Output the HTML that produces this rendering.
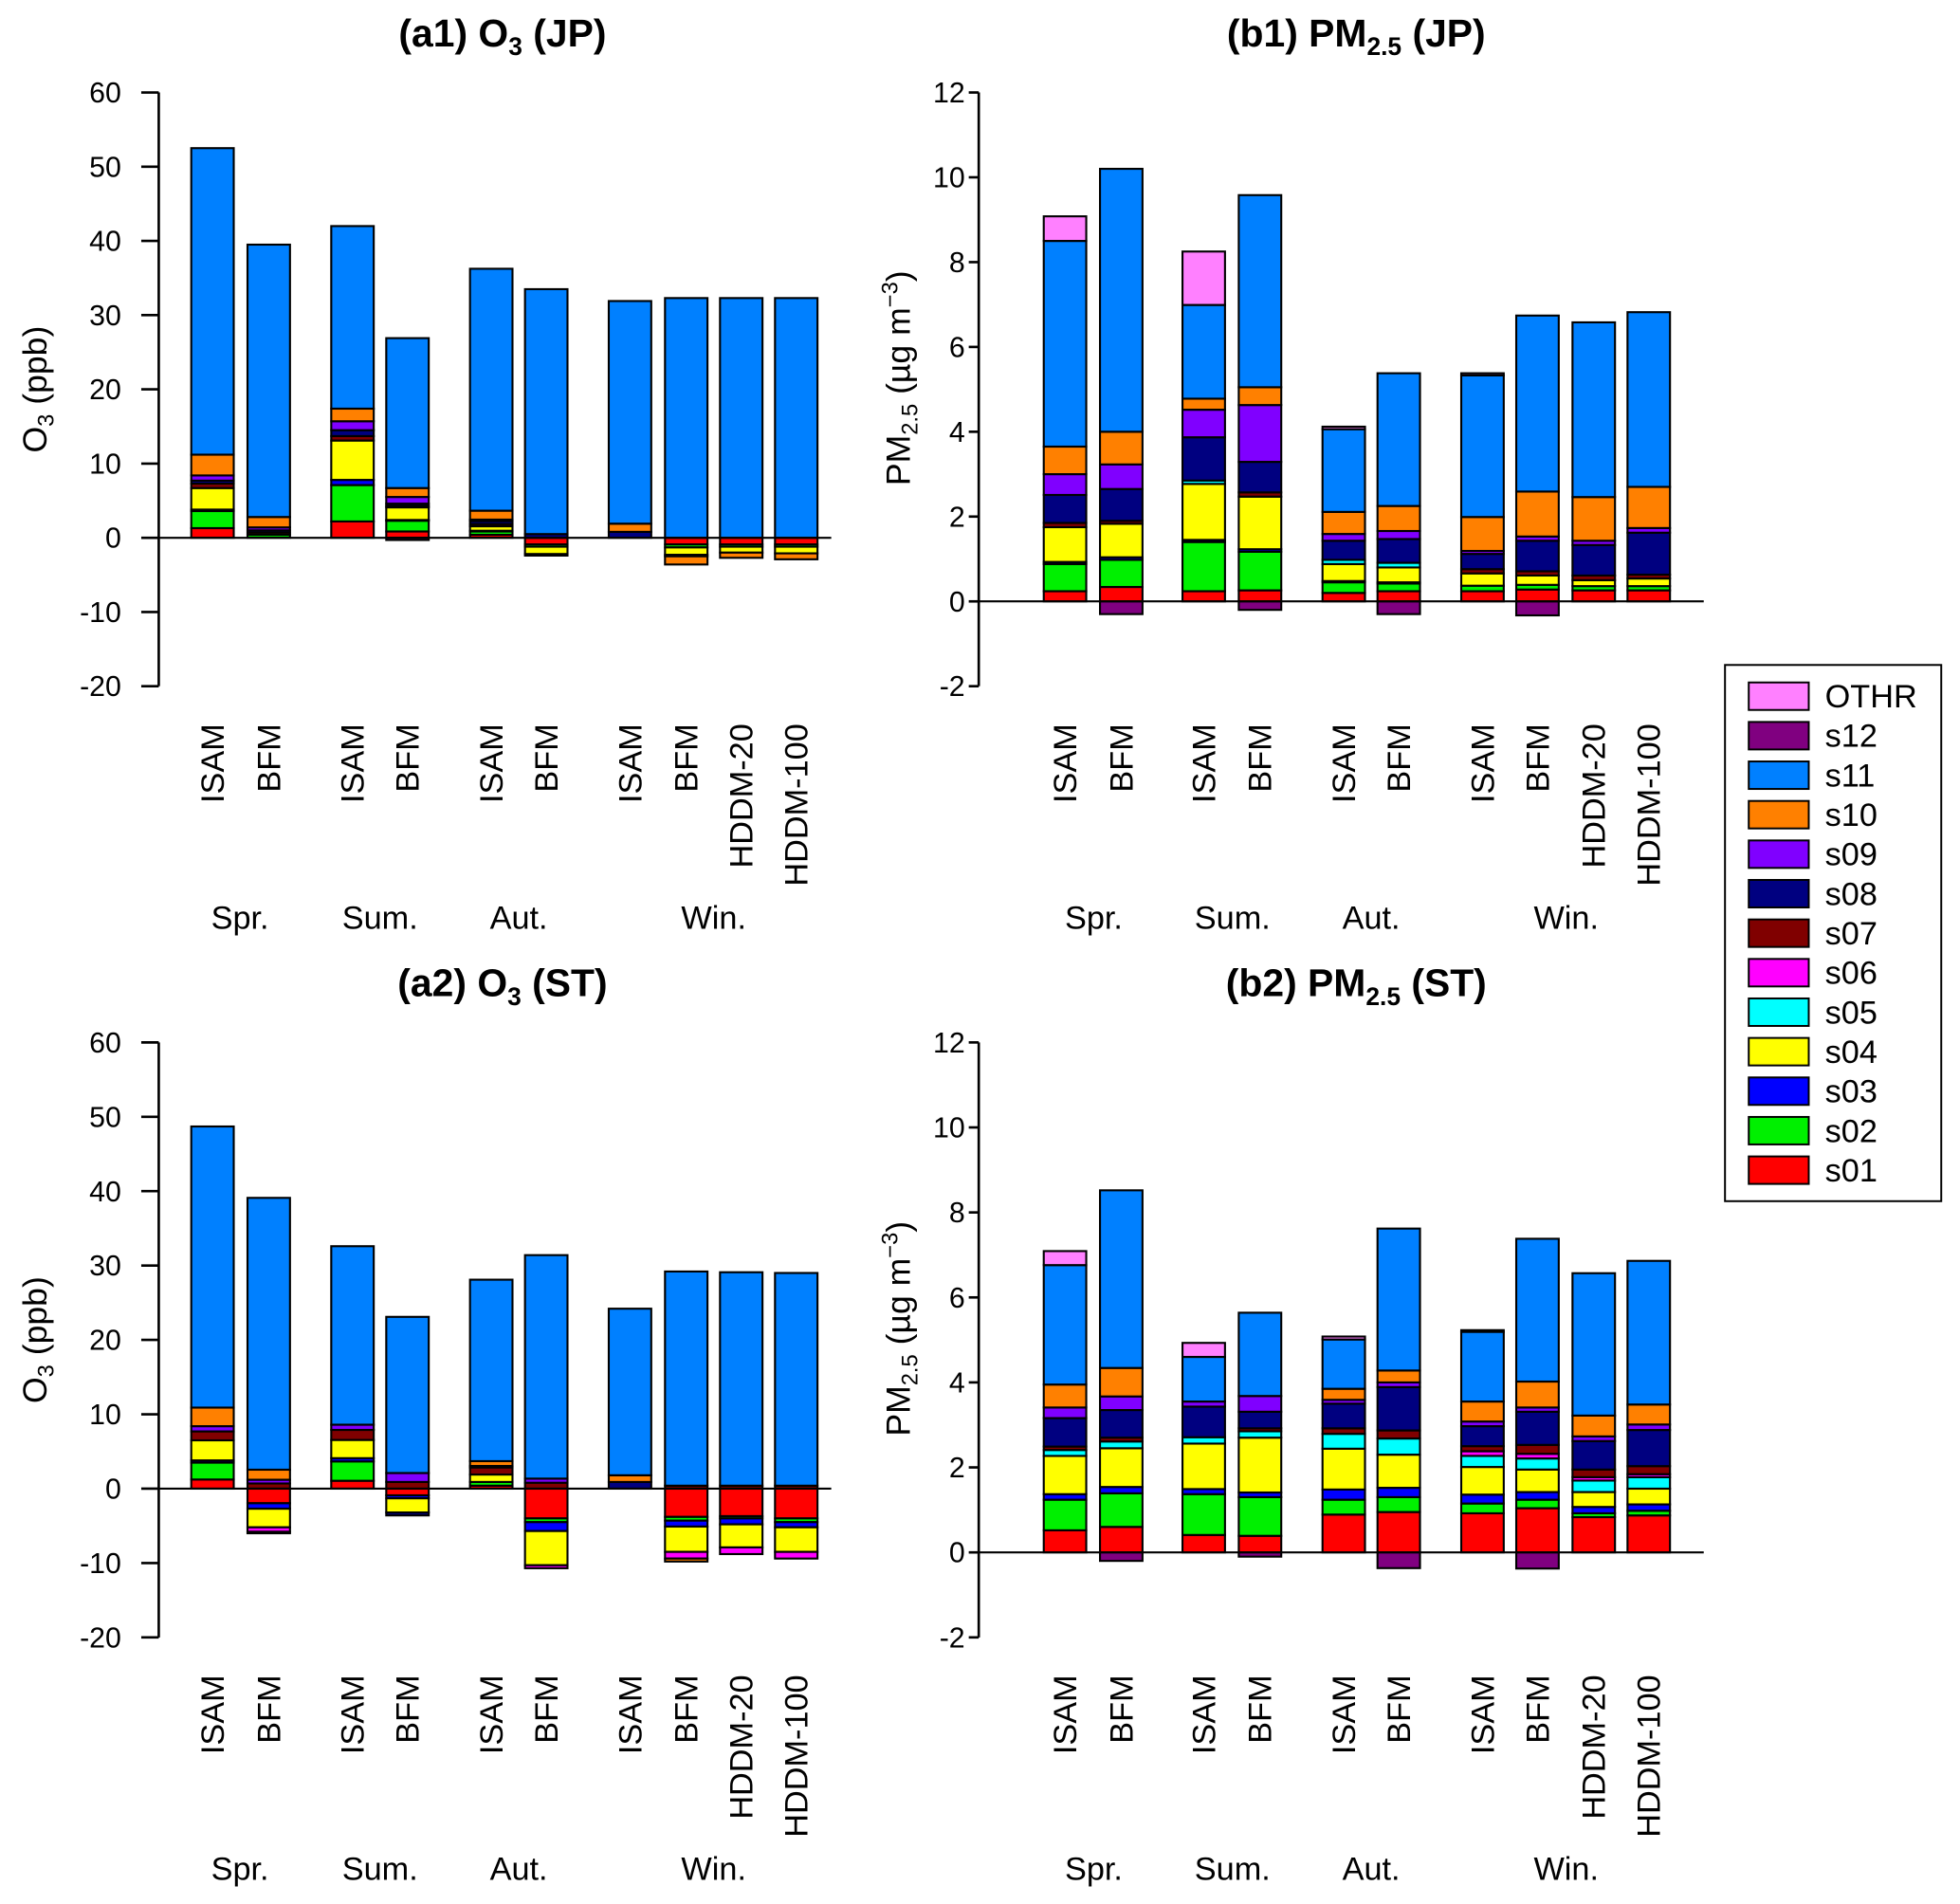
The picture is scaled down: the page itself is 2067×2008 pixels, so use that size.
<!DOCTYPE html>
<html><head><meta charset="utf-8">
<style>
html,body{margin:0;padding:0;background:#fff;}
svg{display:block;font-family:"Liberation Sans",Arial,sans-serif;}
</style></head>
<body>
<svg id="chart" width="2067" height="2008" viewBox="0 0 1568 1523.3" preserveAspectRatio="none" xmlns="http://www.w3.org/2000/svg"></svg>
<script>
const categories = ["ISAM","BFM","ISAM","BFM","ISAM","BFM","ISAM","BFM","HDDM-20","HDDM-100"];
const seasons = ["Spr.","Sum.","Aut.","Win."];
const seriesNames = ["s01","s02","s03","s04","s05","s06","s07","s08","s09","s10","s11","s12","OTHR"];
const seriesColors = ["#ff0000","#00f000","#0000ff","#ffff00","#00ffff","#ff00ff","#800000","#000080","#8000ff","#ff8000","#0080ff","#800080","#ff80ff"];
const oTicks = [60,50,40,30,20,10,0,-10,-20];
const pTicks = [12,10,8,6,4,2,0,-2];

// (a1) O3 JP
const a1_s01 = [1.3,0,2.2,0.85,0.4,-0.9,0,-0.9,-0.9,-0.9];
const a1_s02 = [2.3,0.4,4.9,1.45,0.45,-0.3,0,-0.4,-0.3,-0.3];
const a1_s03 = [0.2,0,0.7,0.1,0.1,0,0,0,0,0];
const a1_s04 = [2.9,0,5.3,1.7,0.6,-1.0,0,-1.0,-0.8,-0.9];
const a1_s05 = [0,0,0,0,0,0,0,0,0,0];
const a1_s06 = [0,0,0,0,0,0,0,0,0,0];
const a1_s07 = [0.6,0.3,0.6,0.2,0.3,0,0,0,0,0];
const a1_s08 = [0.4,0.3,0.8,0.3,0.4,0.5,0.8,-0.2,0,0];
const a1_s09 = [0.7,0.4,1.2,0.9,0.2,0,0,0,0,0];
const a1_s10 = [2.8,1.4,1.7,1.2,1.2,-0.2,1.1,-1.1,-0.7,-0.8];
const a1_s11 = [41.3,36.7,24.6,20.2,32.6,33.0,30.0,32.3,32.3,32.3];
const a1_s12 = [0,0,0,-0.3,0,0,0,0,0,0];
const a1_othr = [0,0,0,0,0,0,0,0,0,0];

// (b1) PM2.5 JP
const b1_s01 = [.24,.34,.24,.26,.2,.24,.24,.28,.26,.26];
const b1_s02 = [.64,.64,1.16,.91,.25,.18,.13,.11,.10,.10];
const b1_s03 = [.05,.06,.05,.06,.03,.03,0,0,0,0];
const b1_s04 = [.82,.79,1.32,1.24,.40,.35,.29,.22,.14,.18];
const b1_s05 = [0,0,.08,0,.10,.11,0,0,0,0];
const b1_s06 = [0,0,0,0,0,0,0,0,0,0];
const b1_s07 = [.10,.07,0,.10,0,0,.10,.10,.11,.09];
const b1_s08 = [.66,.75,1.02,.72,.45,.56,.36,.72,.72,.99];
const b1_s09 = [.49,.58,.65,1.34,.16,.19,.07,.10,.10,.11];
const b1_s10 = [.65,.77,.26,.42,.52,.59,.80,1.06,1.03,.97];
const b1_s11 = [4.85,6.2,2.21,4.53,1.95,3.13,3.34,4.15,4.12,4.12];
const b1_s12 = [0,-.3,0,-.2,0,-.3,0,-.33,0,0];
const b1_othr = [.58,0,1.26,0,.06,0,.05,0,0,0];

// (a2) O3 ST
const a2_s01 = [1.23,-1.96,1.06,-.9,.4,-4.0,0,-3.8,-3.7,-4.0];
const a2_s02 = [2.27,0,2.6,0,.5,-.5,0,-.5,-.3,-.5];
const a2_s03 = [.3,-.74,.44,-.4,0,-1.2,0,-.8,-.8,-.7];
const a2_s04 = [2.7,-2.5,2.45,-1.9,1.0,-4.6,0,-3.4,-3.1,-3.3];
const a2_s05 = [0,0,0,0,0,0,0,0,0,0];
const a2_s06 = [0,-.6,0,0,0,-.4,0,-.9,-.9,-.9];
const a2_s07 = [1.2,.7,1.35,.9,.95,.8,0,.4,.4,.4];
const a2_s08 = [0,-.2,0,-.4,0,0,.9,0,0,0];
const a2_s09 = [.7,.5,.7,1.2,.2,.55,0,0,0,0];
const a2_s10 = [2.5,1.35,0,0,.65,0,.9,-.4,0,0];
const a2_s11 = [37.8,36.55,24.0,21.0,24.4,30.05,22.4,28.8,28.7,28.6];
const a2_s12 = [0,0,0,0,0,0,0,0,0,0];
const a2_othr = [0,0,0,0,0,0,0,0,0,0];

// (b2) PM2.5 ST
const b2_s01 = [.52,.6,.41,.39,.89,.95,.92,1.04,.83,.87];
const b2_s02 = [.72,.79,.96,.91,.35,.35,.23,.2,.09,.11];
const b2_s03 = [.13,.15,.12,.11,.24,.22,.21,.18,.15,.15];
const b2_s04 = [.9,.91,1.07,1.29,.96,.78,.65,.53,.35,.37];
const b2_s05 = [.14,.16,.15,.15,.35,.38,.26,.26,.27,.27];
const b2_s06 = [0,0,0,0,0,0,.11,.11,.08,.07];
const b2_s07 = [.08,.09,0,.07,.13,.19,.12,.21,.18,.19];
const b2_s08 = [.67,.65,.72,.39,.58,1.02,.47,.78,.67,.85];
const b2_s09 = [.25,.32,.12,.37,.09,.11,.11,.1,.11,.13];
const b2_s10 = [.54,.67,0,0,.26,.28,.47,.61,.49,.47];
const b2_s11 = [2.81,4.18,1.05,1.96,1.16,3.34,1.64,3.36,3.35,3.38];
const b2_s12 = [0,-.2,0,-.1,0,-.37,0,-.38,0,0];
const b2_othr = [.33,0,.33,0,.07,0,.04,0,0,0];

const NS = "http://www.w3.org/2000/svg";
const svg = document.getElementById('chart');
function mk(tag, attrs, parent){
  const e = document.createElementNS(NS, tag);
  for (const k in attrs) e.setAttribute(k, attrs[k]);
  (parent||svg).appendChild(e);
  return e;
}

const panels = [
  {id:"a1", title:"(a1) O", sub:"3", tail:" (JP)", kind:"o3", x0:127, x1:665, yTop:74, yBot:549, vMax:60, vMin:-20, ticks:oTicks, centers:[170,215,282,326,393,437,504,549,593,637], seasonX:[192,304,415,571], titleX:402, tickLen:14, labGap:30,
    series:[a1_s01,a1_s02,a1_s03,a1_s04,a1_s05,a1_s06,a1_s07,a1_s08,a1_s09,a1_s10,a1_s11,a1_s12,a1_othr]},
  {id:"b1", title:"(b1) PM", sub:"2.5", tail:" (JP)", kind:"pm", x0:783, x1:1363, yTop:74, yBot:549, vMax:12, vMin:-2, ticks:pTicks, centers:[852,897,963,1008,1075,1119,1186,1230,1275,1319], seasonX:[875,986,1097,1253], titleX:1085, tickLen:8, labGap:11,
    series:[b1_s01,b1_s02,b1_s03,b1_s04,b1_s05,b1_s06,b1_s07,b1_s08,b1_s09,b1_s10,b1_s11,b1_s12,b1_othr]},
  {id:"a2", title:"(a2) O", sub:"3", tail:" (ST)", kind:"o3", x0:127, x1:665, yTop:834, yBot:1310, vMax:60, vMin:-20, ticks:oTicks, centers:[170,215,282,326,393,437,504,549,593,637], seasonX:[192,304,415,571], titleX:402, tickLen:14, labGap:30,
    series:[a2_s01,a2_s02,a2_s03,a2_s04,a2_s05,a2_s06,a2_s07,a2_s08,a2_s09,a2_s10,a2_s11,a2_s12,a2_othr]},
  {id:"b2", title:"(b2) PM", sub:"2.5", tail:" (ST)", kind:"pm", x0:783, x1:1363, yTop:834, yBot:1310, vMax:12, vMin:-2, ticks:pTicks, centers:[852,897,963,1008,1075,1119,1186,1230,1275,1319], seasonX:[875,986,1097,1253], titleX:1085, tickLen:8, labGap:11,
    series:[b2_s01,b2_s02,b2_s03,b2_s04,b2_s05,b2_s06,b2_s07,b2_s08,b2_s09,b2_s10,b2_s11,b2_s12,b2_othr]}
];

const BW = 34;
panels.forEach(p => {
  const g = mk('g', {});
  
  
  const yScale = v => p.yTop + (p.vMax - v) / (p.vMax - p.vMin) * (p.yBot - p.yTop);
  const y0 = yScale(0);

  // title
  const t = mk('text', {x:p.titleX, y:p.yTop - 37, 'text-anchor':'middle', 'font-size':31, 'font-weight':'bold'}, g);
  
  
  t.appendChild(document.createTextNode(p.title));
  const ts = mk('tspan', {'font-size':20, dy:7}, t); ts.textContent = p.sub;
  const tt = mk('tspan', {dy:-7}, t); tt.textContent = p.tail;

  // bars
  p.centers.forEach((cx, i) => {
    let pos = 0, neg = 0;
    p.series.forEach((arr, s) => {
      const v = arr[i];
      if (!v) return;
      let a, b;
      if (v > 0) { a = pos; b = pos + v; pos = b; } else { a = neg; b = neg + v; neg = b; }
      const ya = yScale(a), yb = yScale(b);
      const r = mk('rect', {x:cx - BW/2, y:Math.min(ya,yb), width:BW, height:Math.abs(ya-yb), fill:seriesColors[s], stroke:'#000', 'stroke-width':1.6}, g);
      
      
    });
  });

  // axes
  const ax = mk('line', {x1:p.x0, y1:p.yTop, x2:p.x0, y2:p.yBot, stroke:'#000', 'stroke-width':2}, g);
  
  
  const zl = mk('line', {x1:p.x0, y1:y0, x2:p.x1, y2:y0, stroke:'#000', 'stroke-width':1.6}, g);
  
  
  p.ticks.forEach(v => {
    const y = yScale(v);
    mk('line', {x1:p.x0 - p.tickLen, y1:y, x2:p.x0, y2:y, stroke:'#000', 'stroke-width':2}, g);
    const tl = mk('text', {x:p.x0 - p.labGap, y:y + 8, 'text-anchor':'end', 'font-size':23}, g);
    
    
    tl.textContent = v;
  });

  // y title
  const yc = (p.yTop + p.yBot) / 2;
  const ytx = p.kind === 'o3' ? 37 : 728;
  const ycc = p.kind === 'o3' ? yc : yc - 9;
  const yt = mk('text', {transform:'translate(' + ytx + ',' + ycc + ') rotate(-90)', 'text-anchor':'middle', 'font-size':27}, g);
  
  
  if (p.kind === 'o3') {
    yt.appendChild(document.createTextNode('O'));
    const s1 = mk('tspan', {'font-size':18, dy:6}, yt); s1.textContent = '3';
    const s2 = mk('tspan', {dy:-6}, yt); s2.textContent = ' (ppb)';
  } else {
    yt.appendChild(document.createTextNode('PM'));
    const s1 = mk('tspan', {'font-size':18, dy:6}, yt); s1.textContent = '2.5';
    const s2 = mk('tspan', {dy:-6}, yt); s2.textContent = ' (µg m';
    const s3 = mk('tspan', {'font-size':18, dy:-10}, yt); s3.textContent = '−3';
    const s4 = mk('tspan', {dy:10}, yt); s4.textContent = ')';
  }

  // category labels
  p.centers.forEach((cx, i) => {
    const cl = mk('text', {transform:'translate(' + (cx + 9) + ',' + (p.yBot + 30) + ') rotate(-90)', 'text-anchor':'end', 'font-size':26}, g);
    
    
    cl.textContent = categories[i];
  });
  // season labels
  p.seasonX.forEach((sx, i) => {
    const sl = mk('text', {x:sx, y:p.yBot + 194, 'text-anchor':'middle', 'font-size':26}, g);
    
    
    sl.textContent = seasons[i];
  });
});

// legend
const lg = mk('g', {});


mk('rect', {x:1380, y:532, width:173, height:429, fill:'#fff', stroke:'#000', 'stroke-width':1.5}, lg);
for (let k = 0; k < 13; k++) {
  const s = 12 - k;
  const cy = 557 + k * 31.6;
  const e = mk('g', {}, lg);
  
  
  mk('rect', {x:1399, y:cy - 11, width:48, height:22, fill:seriesColors[s], stroke:'#000', 'stroke-width':1.5}, e);
  const lt = mk('text', {x:1460, y:cy + 9, 'font-size':26}, e);
  lt.textContent = seriesNames[s];
}
</script>
</body></html>
